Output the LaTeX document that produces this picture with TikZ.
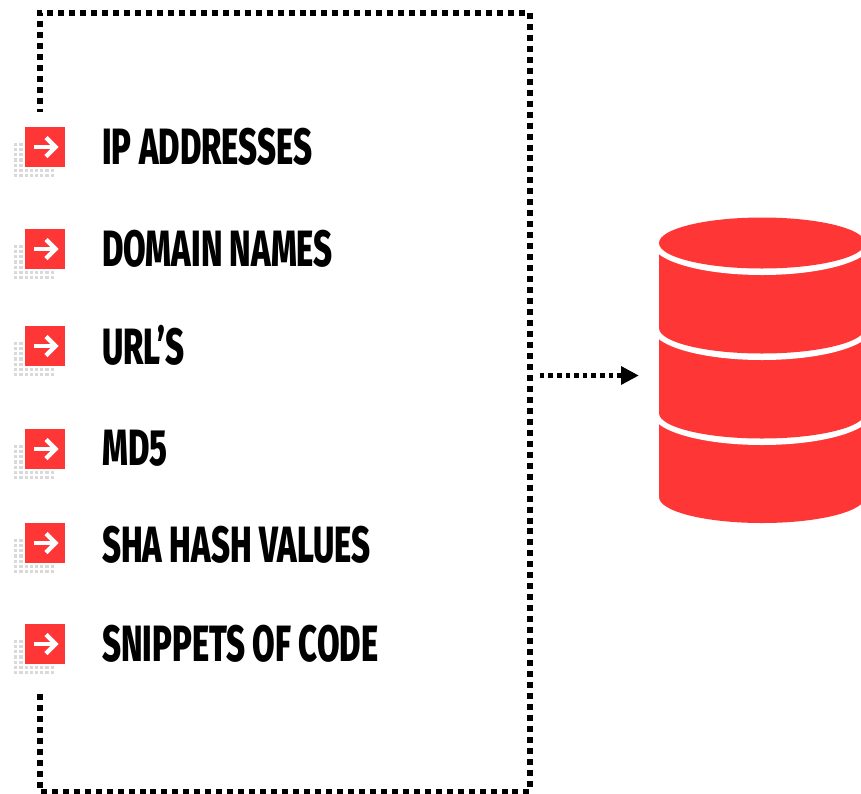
\documentclass[tikz,border=0pt]{standalone}
\usepackage{fontspec}
\newfontfamily\labelfont[FakeStretch=0.643]{Fira Sans ExtraBold}
\definecolor{dbred}{HTML}{FF3636}
\definecolor{dotgrey}{HTML}{D9D9D9}
\tikzset{
  x=1pt,y=-1pt,
  framedots/.style={line width=6pt,dash pattern=on 6pt off 4.97pt,dash phase=3pt},
  arrowdots/.style={line width=4.6pt,dash pattern=on 4.6pt off 4pt},
  itemlabel/.style={anchor=base west,inner sep=0pt,font=\labelfont\fontsize{51}{51}\selectfont,text=black},
  iconbox/.style={fill=dbred},
  iconarrow/.style={draw=white,line width=4.4pt},
  griddot/.style={fill=dotgrey},
  layerfill/.style={fill=dbred},
  gapfill/.style={fill=white},
}
\newcommand{\iconat}[2]{%
  \foreach \k in {0,...,4}{\foreach \c in {0,1}{
    \fill[griddot] ({15.7+5.2*\c-1.6},{#2+17.3+5.2*\k-1.6}) rectangle +(3.2,3.2);}}
  \foreach \k in {5,6}{\foreach \c in {0,...,7}{
    \fill[griddot] ({15.7+5.2*\c-1.6},{#2+17.3+5.2*\k-1.6}) rectangle +(3.2,3.2);}}
  \node[iconbox,inner sep=0pt,minimum size=40pt,anchor=north west] (#1) at (25,#2) {};
  \draw[iconarrow] (34,#2+20) -- (56,#2+20);
  \draw[iconarrow,miter limit=4] (46,#2+10.5) -- (55.5,#2+20) -- (46,#2+29.5);
}
\begin{document}
\begin{tikzpicture}
\clip (0,0) rectangle (861,793);
\fill[white] (0,0) rectangle (861,793);
% frame
\coordinate (fa) at (39.5,111.7);
\coordinate (fb) at (39.5,12.7);
\coordinate (fc) at (529.7,12.7);
\coordinate (fd) at (529.7,791.5);
\coordinate (fe) at (39.5,791.5);
\coordinate (ff) at (39.5,693);
\draw[framedots] (fa) -- (fb) -- (fc) -- (fd) -- (fe) -- (ff);
% icons and labels
\iconat{i1}{127}
\iconat{i2}{229}
\iconat{i3}{326}
\iconat{i4}{429}
\iconat{i5}{523}
\iconat{i6}{624}
\node[itemlabel] (t1) at (102,164.5) {IP ADDRESSES};
\node[itemlabel] (t2) at (102,266.5) {DOMAIN NAMES};
\node[itemlabel] (t3) at (102,364.5) {URL’S};
\node[itemlabel] (t4) at (102,465.5) {MD5};
\node[itemlabel] (t5) at (102,562) {SHA HASH VALUES};
\node[itemlabel] (t6) at (102,661.5) {SNIPPETS OF CODE};
% database
\begin{scope}
\fill[layerfill] (659,413) rectangle (865,497);
\fill[layerfill] (762,497) ellipse [x radius=103,y radius=26];
\fill[gapfill] (762,413) ellipse [x radius=110,y radius=32];
\fill[layerfill] (659,328) rectangle (865,413);
\fill[layerfill] (762,413) ellipse [x radius=103,y radius=25.5];
\fill[gapfill] (762,328) ellipse [x radius=110,y radius=32];
\fill[layerfill] (659,243) rectangle (865,328);
\fill[layerfill] (762,328) ellipse [x radius=103,y radius=25.5];
\fill[gapfill] (762,243) ellipse [x radius=110,y radius=32];
\fill[layerfill] (762,243) ellipse [x radius=103,y radius=25.5];
\end{scope}
% connector
\coordinate (ca) at (539.7,375.5);
\coordinate (cb) at (622,375.5);
\draw[arrowdots] (ca) -- (cb);
\fill[black] (621,366) -- (638.5,375.5) -- (621,385) -- cycle;
\end{tikzpicture}
\end{document}
